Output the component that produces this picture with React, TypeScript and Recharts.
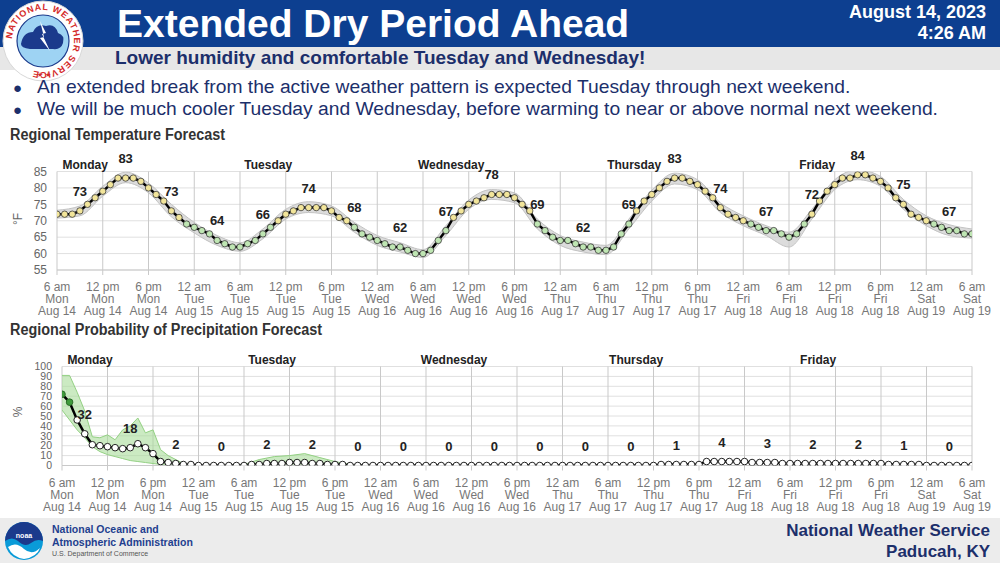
import React from "react";
import {
  ComposedChart,
  Line,
  Area,
  XAxis,
  YAxis,
  CartesianGrid,
  ReferenceLine,
  LabelList,
} from "recharts";

// hourly regional temperature, 6 am Mon Aug 14 -> 6 am Sat Aug 19 (121 hours)
const temps = [
  72, 72, 72, 73, 75, 77, 79, 81, 83, 83, 83,
  82, 80, 78, 76, 73, 71, 69, 68, 67, 66,
  64, 63, 62, 62, 63, 64, 66, 68, 70, 72,
  73, 74, 74, 74, 74, 73, 71, 70, 68, 66,
  65, 64, 63, 62, 62, 61, 60, 60, 61, 64,
  67, 71, 73, 75, 76, 77, 78, 78, 78, 77,
  75, 73, 69, 67, 65, 64, 64, 63, 62, 62,
  61, 61, 62, 66, 69, 73, 76, 78, 80, 82,
  83, 83, 82, 81, 79, 77, 74, 72, 71, 70,
  69, 68, 67, 67, 66, 65, 66, 69, 72, 76,
  79, 81, 83, 83, 84, 84, 83, 82, 80, 77,
  75, 72, 71, 70, 69, 68, 67, 67, 66, 66,
];

// grey uncertainty band around the temperature, every 3 hours
const tempBandLo = [
  70.8, 71.5, 77.5, 81.6, 78.5, 71.2, 66.3, 62.5, 60.7, 64.5, 70.5,
  72.5, 71.5, 66.5, 62.5, 60.5, 58.8, 65.5, 73.5, 76.5, 75.5,
  67.5, 62.5, 60.5, 59.7, 67.5, 76, 81.2, 79.5, 72.5, 68.5,
  65.5, 62, 70.5, 79.5, 82.5, 80.5, 73.5, 68.5, 65.5, 64.7,
];
const tempBandHi = [
  73.2, 74.5, 80.5, 84.8, 81.5, 75, 69.5, 65.5, 63.3, 67.5, 73.5,
  75.8, 74.5, 69.5, 65.5, 63.3, 61.2, 68.5, 76.3, 79.5, 78.5,
  70.5, 65.5, 63.5, 62.5, 70.5, 79.3, 84.5, 82.5, 75.5, 71.5,
  68.5, 66.5, 73.5, 82.5, 85.5, 83.5, 76.5, 71.5, 68.8, 67.5,
];

// values printed above the curve, one per 6 hour block
const tempLabels = [73, 83, 73, 64, 66, 74, 68, 62, 67, 78, 69, 62, 69, 83, 74, 67, 72, 84, 75, 67];

// hourly probability of precipitation (%)
const pops = [
  72, 64, 46, 32, 21, 20, 19, 18, 17, 18, 22,
  18, 12, 4, 3, 2, 1, 1, 0, 0, 0,
  0, 0, 0, 0, 1, 1, 2, 2, 2, 3,
  3, 3, 2, 2, 1, 1, 1, 0, 0, 0,
  0, 0, 0, 0, 0, 0, 0, 0, 0, 0,
  0, 0, 0, 0, 0, 0, 0, 0, 0, 0,
  0, 0, 0, 0, 0, 0, 0, 0, 0, 0,
  0, 0, 0, 0, 0, 0, 0, 0, 1, 1,
  1, 1, 1, 1, 4, 4, 4, 4, 4, 4,
  3, 3, 3, 3, 2, 2, 2, 2, 2, 2,
  2, 2, 2, 2, 2, 2, 2, 2, 1, 1,
  1, 1, 1, 0, 0, 0, 0, 0, 0, 0,
];

const popBandHours = [0, 1, 2, 3, 4, 5, 6, 7, 8, 9, 10, 11, 12, 13, 14, 15, 16, 18, 22, 24, 26, 28, 30, 32, 34, 36, 38, 40];
const popBandLo = [56, 46, 36, 28, 19, 14, 11, 9, 7, 5, 4, 3, 2, 1, 0, 0, 0, 0, 0, 0, 0, 0, 0, 0, 0, 0, 0, 0];
const popBandHi = [91, 91, 74, 55, 29, 28, 31, 26, 36, 40, 48, 33, 36, 16, 10, 6, 2, 0, 0, 1, 6, 9, 10, 12, 8, 4, 1, 0];

const popLabels = [32, 18, 2, 0, 2, 2, 0, 0, 0, 0, 0, 0, 0, 1, 4, 3, 2, 2, 1, 0];

const tickHours = [0, 6, 12, 18, 24, 30, 36, 42, 48, 54, 60, 66, 72, 78, 84, 90, 96, 102, 108, 114, 120];
const tickTimes = ["6 am", "12 pm", "6 pm", "12 am", "6 am", "12 pm", "6 pm", "12 am", "6 am", "12 pm", "6 pm", "12 am", "6 am", "12 pm", "6 pm", "12 am", "6 am", "12 pm", "6 pm", "12 am", "6 am"];
const tickDays = ["Mon", "Mon", "Mon", "Tue", "Tue", "Tue", "Tue", "Wed", "Wed", "Wed", "Wed", "Thu", "Thu", "Thu", "Thu", "Fri", "Fri", "Fri", "Fri", "Sat", "Sat"];
const tickDates = ["Aug 14", "Aug 14", "Aug 14", "Aug 15", "Aug 15", "Aug 15", "Aug 15", "Aug 16", "Aug 16", "Aug 16", "Aug 16", "Aug 17", "Aug 17", "Aug 17", "Aug 17", "Aug 18", "Aug 18", "Aug 18", "Aug 18", "Aug 19", "Aug 19"];

const dayNames = ["Monday", "Tuesday", "Wednesday", "Thursday", "Friday"];
const dayHours = [3.7, 27.7, 51.7, 75.7, 99.7];

const tempTicks = [55, 60, 65, 70, 75, 80, 85];
const popTicks = [0, 10, 20, 30, 40, 50, 60, 70, 80, 90, 100];

const NARROW = "'Liberation Sans Narrow', 'Arial Narrow', 'Liberation Sans', sans-serif";
const SANS = "'Liberation Sans', Arial, sans-serif";
const NAVY = "#1c2f6b";

const tempData = temps.map((t, i) => ({ h: i, t }));
const tempBand = tempBandLo.map((lo, i) => ({ h: i * 3, band: [lo, tempBandHi[i]] }));
const tempLabelData = tempLabels.map((v, i) => ({ h: 3 + i * 6, v }));
const popData = pops.map((p, i) => ({ h: i, p }));
const popBand = popBandHours.map((h, i) => ({ h, band: [popBandLo[i], popBandHi[i]] }));
const popLabelData = popLabels.map((v, i) => ({ h: 3 + i * 6, v }));

function TimeTick(props: any) {
  const { x, y, payload } = props;
  const i = tickHours.indexOf(payload.value);
  return (
    <text x={x} y={y} textAnchor="middle" fill="#777" fontSize={12} fontFamily={NARROW}>
      <tspan x={x} dy={14}>{tickTimes[i]}</tspan>
      <tspan x={x} dy={12}>{tickDays[i]}</tspan>
      <tspan x={x} dy={12}>{tickDates[i]}</tspan>
    </text>
  );
}

const TempDot = (p: any) => {
  if (p.cx == null || p.cy == null) return <g key={p.index} />;
  const warm = p.payload.t >= 70;
  return (
    <circle key={p.index} cx={p.cx} cy={p.cy} r={3.2} fill={warm ? "#f2e59a" : "#bfe6b3"} stroke="#3a3a3a" strokeWidth={0.8} />
  );
};

const PopDot = (p: any) => {
  if (p.cx == null || p.cy == null) return <g key={p.index} />;
  const high = p.payload.p >= 50;
  return (
    <circle key={p.index} cx={p.cx} cy={p.cy} r={3.3} fill={high ? "#3f9b3c" : "#ffffff"} stroke={high ? "#2d6e2a" : "#222"} strokeWidth={1} />
  );
};

const labelStyle = { fontFamily: NARROW, fontWeight: 700, fontSize: 13, fill: "#222" };

function DayLines() {
  return dayNames.map((d, i) => (
    <ReferenceLine
      key={d}
      x={dayHours[i]}
      stroke="transparent"
      label={{ value: d, position: "top", offset: 3, fill: "#222", fontSize: 12, fontWeight: 700, fontFamily: SANS }}
    />
  ));
}

function NwsLogo() {
  return (
    <svg width={82} height={82} viewBox="0 0 82 82" style={{ position: "absolute", left: 2, top: 0 }}>
      <defs>
        <path id="ring" d="M 41 41 m -31 0 a 31 31 0 1 1 62 0 a 31 31 0 1 1 -62 0" />
      </defs>
      <circle cx={41} cy={41} r={40} fill="#ffffff" stroke="#d8d8d8" strokeWidth={1} />
      <text fontSize={9} fontWeight={700} fill="#d42a2a" fontFamily={SANS} letterSpacing={0.8}>
        <textPath href="#ring" startOffset="1%">NATIONAL WEATHER SERVICE</textPath>
      </text>
      <circle cx={41} cy={41} r={26} fill="#9ed3f3" stroke="#1b3a8c" strokeWidth={1.2} />
      <path d="M19 44 q2 -12 12 -12 q4 -9 13 -6 q9 -3 12 7 q7 2 5 10 q-2 7 -10 6 l-23 0 q-9 -1 -9 -5 z" fill="#1b3a8c" />
      <path d="M38 21 l6 12 l-4 1 l8 17 l-10 -13 l4 -1 z" fill="#ffffff" />
      <text x={35} y={77} fontSize={7} fill="#d42a2a">★ ★</text>
    </svg>
  );
}

function NoaaLogo() {
  return (
    <svg width={40} height={40} viewBox="0 0 40 40" style={{ position: "absolute", left: 4, top: 521 }}>
      <circle cx={20} cy={20} r={19} fill="#0a9bd8" />
      <path d="M1 20 a19 19 0 0 1 38 0 q-6 -3 -12 2 q-6 5 -13 -2 q-6 -5 -13 0 z" fill="#1b3a8c" />
      <path d="M4 26 q8 -6 16 2 q8 7 16 -1 q-3 9 -16 11 q-12 -2 -16 -12 z" fill="#ffffff" />
      <text x={20} y={17} textAnchor="middle" fontSize={7} fontWeight={700} fill="#ffffff" fontFamily={SANS}>noaa</text>
    </svg>
  );
}

const chartTitle = {
  position: "absolute" as const,
  left: 10,
  fontSize: 16,
  lineHeight: "22px",
  fontWeight: 700,
  color: "#333",
  fontFamily: SANS,
  transform: "scaleX(0.9)",
  transformOrigin: "left center",
  whiteSpace: "nowrap" as const,
};

export default function App() {
  return (
    <div
      style={{
        position: "absolute",
        left: 0,
        top: 0,
        width: 1000,
        height: 563,
        background: "#ffffff",
        overflow: "hidden",
        fontFamily: SANS,
      }}
    >
      {/* header */}
      <div style={{ position: "absolute", left: 0, top: 0, width: 1000, height: 47, background: "#0d3f90" }} />
      <div style={{ position: "absolute", left: 0, top: 47, width: 1000, height: 23, background: "#e7e7e7" }} />
      <NwsLogo />
      <div style={{ position: "absolute", left: 117, top: 0, fontSize: 39, lineHeight: "47px", fontWeight: 700, color: "#fff", whiteSpace: "nowrap" }}>
        Extended Dry Period Ahead
      </div>
      <div style={{ position: "absolute", right: 14, top: 2, fontSize: 18, lineHeight: "21px", fontWeight: 700, color: "#fff", textAlign: "right" }}>
        August 14, 2023
        <br />
        4:26 AM
      </div>
      <div style={{ position: "absolute", left: 115, top: 47, fontSize: 19, lineHeight: "22px", fontWeight: 700, color: NAVY, whiteSpace: "nowrap" }}>
        Lower humidity and comfortable Tuesday and Wednesday!
      </div>
      <div style={{ position: "absolute", left: 13, top: 76, fontSize: 19.25, lineHeight: "21px", color: NAVY, whiteSpace: "nowrap" }}>
        <div>
          <span style={{ display: "inline-block", width: 24, fontSize: 15 }}>●</span>An extended break from the active weather pattern is expected Tuesday through next weekend.
        </div>
        <div>
          <span style={{ display: "inline-block", width: 24, fontSize: 15 }}>●</span>We will be much cooler Tuesday and Wednesday, before warming to near or above normal next weekend.
        </div>
      </div>

      {/* temperature chart */}
      <div style={{ ...chartTitle, top: 124 }}>Regional Temperature Forecast</div>
      <div style={{ position: "absolute", left: 12, top: 212, fontSize: 12, color: "#666", transform: "rotate(-90deg)", fontFamily: NARROW }}>°F</div>
      <div style={{ position: "absolute", left: 0, top: 140 }}>
        <ComposedChart width={1000} height={180} margin={{ top: 31.5, right: 28, bottom: 0, left: 0 }}>
          <CartesianGrid vertical={false} stroke="#e0e0e0" />
          <CartesianGrid horizontal={false} stroke="#c9c9c9" />
          <XAxis
            dataKey="h"
            type="number"
            domain={[0, 120]}
            ticks={tickHours}
            interval={0}
            height={50}
            tick={<TimeTick />}
            tickSize={5}
            tickLine={{ stroke: "#c9c9c9" }}
            axisLine={{ stroke: "#c9c9c9" }}
            allowDataOverflow
          />
          <YAxis
            type="number"
            domain={[55, 85]}
            ticks={tempTicks}
            interval={0}
            width={57}
            axisLine={false}
            tickLine={false}
            tickMargin={4}
            tick={{ fill: "#666", fontSize: 12, fontFamily: NARROW }}
            allowDataOverflow
          />
          {DayLines()}
          <Area data={tempBand} dataKey="band" type="monotone" fill="#cdcdcd" fillOpacity={0.7} stroke="#c2c2c2" strokeWidth={1} isAnimationActive={false} />
          <Line data={tempData} dataKey="t" type="linear" stroke="#000" strokeWidth={2.5} dot={TempDot} isAnimationActive={false} />
          <Line data={tempLabelData} dataKey="v" stroke="none" dot={false} isAnimationActive={false}>
            <LabelList dataKey="v" position="top" offset={15} style={labelStyle} />
          </Line>
        </ComposedChart>
      </div>

      {/* precipitation chart */}
      <div style={{ ...chartTitle, top: 319 }}>Regional Probability of Precipitation Forecast</div>
      <div style={{ position: "absolute", left: 13, top: 405, fontSize: 12, color: "#666", transform: "rotate(-90deg)", fontFamily: NARROW }}>%</div>
      <div style={{ position: "absolute", left: 0, top: 335 }}>
        <ComposedChart width={1000} height={180} margin={{ top: 31.5, right: 28, bottom: 0, left: 0 }}>
          <CartesianGrid vertical={false} stroke="#e0e0e0" />
          <CartesianGrid horizontal={false} stroke="#c9c9c9" />
          <XAxis
            dataKey="h"
            type="number"
            domain={[0, 120]}
            ticks={tickHours}
            interval={0}
            height={49.5}
            tick={<TimeTick />}
            tickSize={5}
            tickLine={{ stroke: "#c9c9c9" }}
            axisLine={{ stroke: "#c9c9c9" }}
            allowDataOverflow
          />
          <YAxis
            type="number"
            domain={[0, 100]}
            ticks={popTicks}
            width={62}
            axisLine={false}
            tickLine={false}
            tickMargin={4}
            interval={0}
            tick={{ fill: "#666", fontSize: 10.5, fontFamily: NARROW }}
            allowDataOverflow
          />
          {DayLines()}
          <Area data={popBand} dataKey="band" type="linear" fill="#a9dc9a" fillOpacity={0.6} stroke="#93d083" strokeWidth={1} isAnimationActive={false} />
          <Line data={popData} dataKey="p" type="linear" stroke="#000" strokeWidth={2.5} dot={PopDot} isAnimationActive={false} />
          <Line data={popLabelData} dataKey="v" stroke="none" dot={false} isAnimationActive={false}>
            <LabelList dataKey="v" position="top" offset={15} style={labelStyle} />
          </Line>
        </ComposedChart>
      </div>

      {/* footer */}
      <div style={{ position: "absolute", left: 0, top: 518, width: 1000, height: 45, background: "#ececec" }} />
      <NoaaLogo />
      <div style={{ position: "absolute", left: 52, top: 523, fontSize: 10.5, lineHeight: "13px", fontWeight: 700, color: "#1f3f8f" }}>
        National Oceanic and
        <br />
        Atmospheric Administration
      </div>
      <div style={{ position: "absolute", left: 52, top: 550, fontSize: 7, color: "#555" }}>U.S. Department of Commerce</div>
      <div style={{ position: "absolute", right: 10, top: 520, fontSize: 17, lineHeight: "21px", fontWeight: 700, color: NAVY, textAlign: "right" }}>
        National Weather Service
        <br />
        Paducah, KY
      </div>
    </div>
  );
}
